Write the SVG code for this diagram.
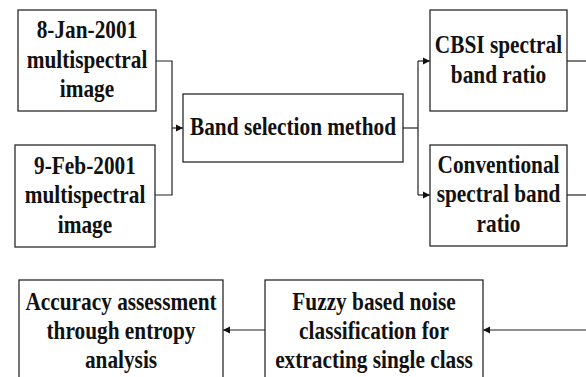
<svg xmlns="http://www.w3.org/2000/svg" width="586" height="377" viewBox="0 0 586 377">
<style>
.box{fill:#fff;stroke:#2a2a2a;stroke-width:1.3}
.t{font-family:"Liberation Serif","Times New Roman",serif;font-weight:bold;font-size:26px;fill:#111;text-anchor:middle}
.c{fill:none;stroke:#222;stroke-width:1.2}
</style>
<defs>
<marker id="ah" markerUnits="userSpaceOnUse" markerWidth="8" markerHeight="8" viewBox="0 0 8 8" refX="7" refY="4" orient="auto">
<path d="M0,0.5 L7,4 L0,7.5 Z" fill="#111"/>
</marker>
</defs>
<rect width="586" height="377" fill="#fff"/>
<g id="connectors">
<path class="c" d="M156,61 H172 V195 H155"/>
<path class="c" d="M172,128 H183" marker-end="url(#ah)"/>
<path class="c" d="M403,128 H418"/>
<path class="c" d="M418,61 V195"/>
<path class="c" d="M418,61 H430" marker-end="url(#ah)"/>
<path class="c" d="M418,195 H430" marker-end="url(#ah)"/>
<path class="c" d="M567,61 H586"/>
<path class="c" d="M567,195 H586"/>
<path class="c" d="M586,330 H483" marker-end="url(#ah)"/>
<path class="c" d="M265,330 H223" marker-end="url(#ah)"/>
</g>
<g id="n_jan">
<rect class="box" x="18" y="10" width="138" height="101"/>
<g transform="translate(87,0) scale(0.82,1)">
<text class="t" x="0" y="38.5">8-Jan-2001</text>
<text class="t" x="0" y="68">multispectral</text>
<text class="t" x="0" y="97.5">image</text>
</g>
</g>
<g id="n_feb">
<rect class="box" x="15" y="145" width="140" height="102"/>
<g transform="translate(85,0) scale(0.82,1)">
<text class="t" x="0" y="174">9-Feb-2001</text>
<text class="t" x="0" y="203.5">multispectral</text>
<text class="t" x="0" y="233">image</text>
</g>
</g>
<g id="n_band">
<rect class="box" x="183" y="94" width="220" height="68"/>
<g transform="translate(293,0) scale(0.82,1)">
<text class="t" x="0" y="135">Band selection method</text>
</g>
</g>
<g id="n_cbsi">
<rect class="box" x="430" y="10" width="137" height="101"/>
<g transform="translate(498.5,0) scale(0.82,1)">
<text class="t" x="0" y="53.5">CBSI spectral</text>
<text class="t" x="0" y="83">band ratio</text>
</g>
</g>
<g id="n_conv">
<rect class="box" x="430" y="145" width="137" height="101"/>
<g transform="translate(498.5,0) scale(0.82,1)">
<text class="t" x="0" y="173">Conventional</text>
<text class="t" x="0" y="202.5">spectral band</text>
<text class="t" x="0" y="232">ratio</text>
</g>
</g>
<g id="n_fuzzy">
<rect class="box" x="265" y="280" width="218" height="104"/>
<g transform="translate(374,0) scale(0.82,1)">
<text class="t" x="0" y="310">Fuzzy based noise</text>
<text class="t" x="0" y="339">classification for</text>
<text class="t" x="0" y="368">extracting single class</text>
</g>
</g>
<g id="n_acc">
<rect class="box" x="19" y="280" width="204" height="104"/>
<g transform="translate(121,0) scale(0.82,1)">
<text class="t" x="0" y="310">Accuracy assessment</text>
<text class="t" x="0" y="339">through entropy</text>
<text class="t" x="0" y="368">analysis</text>
</g>
</g>
</svg>
